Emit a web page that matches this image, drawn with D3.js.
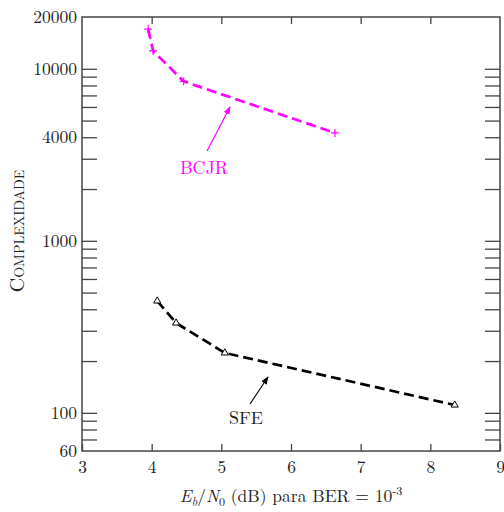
<!DOCTYPE html>
<html>
<head>
<meta charset="utf-8">
<script src="https://cdn.jsdelivr.net/npm/d3@7"></script>
<style>
  body { margin: 0; background: #fff; }
</style>
</head>
<body>
<script>
// valeurs
const bcjrX = [3.95, 4.02, 4.46, 6.63];
const bcjrY = [17000, 12700, 8450, 4240];
const sfeX = [4.08, 4.35, 5.05, 8.35];
const sfeY = [447, 333, 223, 111];
const xTicks = [3, 4, 5, 6, 7, 8, 9];
const yLabels = [60, 100, 1000, 4000, 10000, 20000];

const W = 504, H = 512;
const mLeft = 82, mRight = 500, mTop = 17, mBottom = 451;
const FONT = '"Latin Modern Roman", "Liberation Serif", serif';

const svg = d3.select("body").append("svg")
  .attr("width", W)
  .attr("height", H)
  .style("font-family", FONT);

const x = d3.scaleLinear().domain([3, 9]).range([mLeft, mRight]);
const y = d3.scaleLog().domain([60, 20000]).range([mBottom, mTop]);

// ticks mineurs du log
const yMinor = [];
[10, 100, 1000, 10000].forEach(d => {
  for (let k = 1; k <= 9; k++) {
    const v = d * k;
    if (v > 60 && v < 20000) yMinor.push(v);
  }
});

const axisCol = "#444";

svg.append("g")
  .attr("transform", `translate(${mLeft},0)`)
  .call(d3.axisLeft(y).tickValues(yMinor).tickSize(-15).tickFormat(""))
  .call(g => g.select(".domain").remove())
  .selectAll("line").attr("stroke", axisCol).attr("stroke-width", 1.3);

svg.append("g")
  .attr("transform", `translate(${mRight},0)`)
  .call(d3.axisRight(y).tickValues(yMinor).tickSize(-15).tickFormat(""))
  .call(g => g.select(".domain").remove())
  .selectAll("line").attr("stroke", axisCol).attr("stroke-width", 1.3);

svg.append("g")
  .attr("transform", `translate(${mLeft - 5},0)`)
  .selectAll("text")
  .data(yLabels)
  .join("text")
  .attr("x", 0)
  .attr("y", d => y(d))
  .attr("dy", "0.35em")
  .attr("text-anchor", "end")
  .attr("font-size", 17.5)
  .attr("fill", "#222")
  .style("font-family", FONT)
  .text(d => d);

const xb = svg.append("g")
  .attr("transform", `translate(0,${mBottom})`)
  .call(d3.axisBottom(x).tickValues(xTicks).tickSize(-7).tickPadding(10).tickFormat(d3.format("d")));
xb.select(".domain").remove();
xb.selectAll("line").attr("stroke", axisCol).attr("stroke-width", 1.3);
xb.selectAll("text").attr("font-size", 17.5).attr("fill", "#222")
  .style("font-family", FONT);

const xt = svg.append("g")
  .attr("transform", `translate(0,${mTop})`)
  .call(d3.axisTop(x).tickValues(xTicks.slice(1, -1)).tickSize(-7).tickFormat(""));
xt.select(".domain").remove();
xt.selectAll("line").attr("stroke", axisCol).attr("stroke-width", 1.3);

// cadre
svg.append("rect")
  .attr("x", mLeft).attr("y", mTop)
  .attr("width", mRight - mLeft).attr("height", mBottom - mTop)
  .attr("fill", "none").attr("stroke", axisCol).attr("stroke-width", 1.5);

const line = d3.line()
  .x(d => x(d[0]))
  .y(d => y(d[1]));

const bcjr = d3.zip(bcjrX, bcjrY);
const sfe = d3.zip(sfeX, sfeY);

svg.append("path")
  .datum(bcjr)
  .attr("d", line)
  .attr("fill", "none")
  .attr("stroke", "#ff00ff")
  .attr("stroke-width", 2.7)
  .attr("stroke-dasharray", "10,5");

svg.append("path")
  .datum(sfe)
  .attr("d", line)
  .attr("fill", "none")
  .attr("stroke", "#000")
  .attr("stroke-width", 2.7)
  .attr("stroke-dasharray", "10,5");

svg.selectAll(".plus")
  .data(bcjr)
  .join("path")
  .attr("class", "plus")
  .attr("transform", d => `translate(${x(d[0])},${y(d[1])})`)
  .attr("d", "M-4,0H4M0,-4V4")
  .attr("stroke", "#ff00ff")
  .attr("stroke-width", 1.2);

svg.selectAll(".tri")
  .data(sfe)
  .join("path")
  .attr("class", "tri")
  .attr("transform", d => `translate(${x(d[0])},${y(d[1])})`)
  .attr("d", d3.symbol(d3.symbolTriangle, 22)())
  .attr("fill", "#fff")
  .attr("stroke", "#000")
  .attr("stroke-width", 1);

// fleches et etiquettes
const defs = svg.append("defs");
[["arrM", "#ff00ff"], ["arrK", "#000"]].forEach(([id, c]) => {
  defs.append("marker")
    .attr("id", id)
    .attr("viewBox", "0 0 10 10")
    .attr("refX", 9).attr("refY", 5)
    .attr("markerWidth", 8).attr("markerHeight", 8)
    .attr("markerUnits", "userSpaceOnUse")
    .attr("orient", "auto")
    .append("path")
    .attr("d", "M0,1L10,5L0,9z")
    .attr("fill", c);
});

svg.append("line")
  .attr("x1", 207).attr("y1", 151).attr("x2", 230).attr("y2", 107)
  .attr("stroke", "#ff00ff").attr("stroke-width", 1.2)
  .attr("marker-end", "url(#arrM)");
svg.append("text")
  .attr("x", 204).attr("y", 174)
  .attr("text-anchor", "middle")
  .attr("font-size", 18)
  .attr("fill", "#ff00ff")
  .style("font-family", FONT)
  .text("BCJR");

svg.append("line")
  .attr("x1", 250).attr("y1", 404).attr("x2", 268).attr("y2", 377)
  .attr("stroke", "#000").attr("stroke-width", 1.1)
  .attr("marker-end", "url(#arrK)");
svg.append("text")
  .attr("x", 246).attr("y", 424)
  .attr("text-anchor", "middle")
  .attr("font-size", 18)
  .attr("fill", "#222")
  .style("font-family", FONT)
  .text("SFE");

// titres des axes
const xl = svg.append("text")
  .attr("x", 291).attr("y", 502)
  .attr("text-anchor", "middle")
  .attr("font-size", 17.5)
  .attr("fill", "#222")
  .style("font-family", FONT);
xl.append("tspan").attr("font-style", "italic").text("E");
xl.append("tspan").attr("font-style", "italic").attr("font-size", 12).attr("dy", 4).text("b");
xl.append("tspan").attr("dy", -4).text("/");
xl.append("tspan").attr("font-style", "italic").text("N");
xl.append("tspan").attr("font-size", 12).attr("dy", 4).text("0");
xl.append("tspan").attr("dy", -4).text(" (dB) para BER = 10");
xl.append("tspan").attr("font-size", 12).attr("dy", -7).text("-3");

svg.append("text")
  .attr("transform", "translate(24,231) rotate(-90)")
  .attr("text-anchor", "middle")
  .attr("font-size", 20)
  .attr("fill", "#222")
  .style("font-family", FONT)
  .style("font-variant", "small-caps")
  .text("Complexidade");
</script>
</body>
</html>
